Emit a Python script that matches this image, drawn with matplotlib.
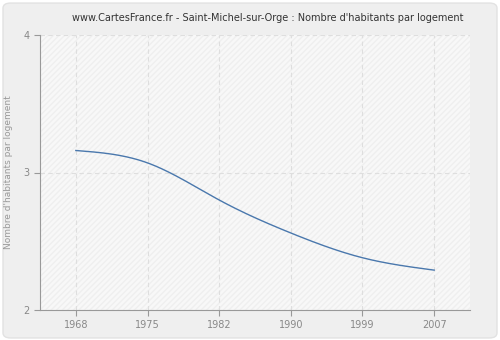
import numpy as np
import matplotlib.pyplot as plt
from matplotlib.patches import FancyBboxPatch, Rectangle

years = ["1968", "1975", "1982", "1990", "1999", "2007"]
values = [3.16, 3.07, 2.80, 2.56, 2.38, 2.29]
y_ticks = [2, 3, 4]


def natural_spline(x, y, xs):
    # natural cubic spline, only used to draw the smooth line
    x = np.asarray(x, float)
    y = np.asarray(y, float)
    n = len(x)
    h = np.diff(x)
    A = np.zeros((n, n))
    r = np.zeros(n)
    A[0, 0] = A[-1, -1] = 1
    for i in range(1, n - 1):
        A[i, i - 1] = h[i - 1]
        A[i, i] = 2 * (h[i - 1] + h[i])
        A[i, i + 1] = h[i]
        r[i] = 6 * ((y[i + 1] - y[i]) / h[i] - (y[i] - y[i - 1]) / h[i - 1])
    M = np.linalg.solve(A, r)
    idx = np.clip(np.searchsorted(x, xs) - 1, 0, n - 2)
    a = x[idx + 1] - xs
    b = xs - x[idx]
    hi = h[idx]
    return (M[idx] * a**3 / (6 * hi) + M[idx + 1] * b**3 / (6 * hi)
            + (y[idx] / hi - M[idx] * hi / 6) * a + (y[idx + 1] / hi - M[idx + 1] * hi / 6) * b)


fig = plt.figure(figsize=(5, 3.4), dpi=100)
fig.patch.set_facecolor("white")
bg = FancyBboxPatch((0.006, 0.006), 0.988, 0.985, boxstyle="round,pad=0,rounding_size=0.015",
                    transform=fig.transFigure, facecolor="#efefef", edgecolor="#e2e2e2", lw=1, zorder=-10)
fig.patches.append(bg)

ax = fig.add_axes([40 / 500, 30 / 340, 430 / 500, 275 / 340])
ax.set_facecolor("#f8f8f8")
ax.add_patch(Rectangle((0, 0), 1, 1, transform=ax.transAxes, facecolor="none",
                       edgecolor="#efefef", hatch="//////", lw=0, zorder=0))

x = np.arange(len(years))
xs = np.linspace(0, len(years) - 1, 300)
ax.plot(xs, natural_spline(x, values, xs), color="#4a78ad", lw=1, zorder=3)

ax.set_xlim(-0.5, len(years) - 0.5)
ax.set_ylim(2, 4)
ax.set_xticks(x)
ax.set_xticklabels(years)
ax.set_yticks(y_ticks)
ax.grid(True, color="#dedede", linestyle=(0, (4, 3)), lw=0.8)
ax.set_axisbelow(True)

for s in ["top", "right"]:
    ax.spines[s].set_visible(False)
for s in ["left", "bottom"]:
    ax.spines[s].set_color("#999999")
ax.tick_params(colors="#999999", labelcolor="#888888", labelsize=7, length=4, width=0.8)

ax.set_ylabel("Nombre d'habitants par logement", color="#999999", fontsize=6.5)
ax.yaxis.set_label_coords(-0.062, 0.5)
fig.text(0.535, 0.948, "www.CartesFrance.fr - Saint-Michel-sur-Orge : Nombre d'habitants par logement",
         ha="center", va="center", fontsize=7, color="#333333")

fig.savefig("out.png", dpi=100, facecolor=fig.get_facecolor())
